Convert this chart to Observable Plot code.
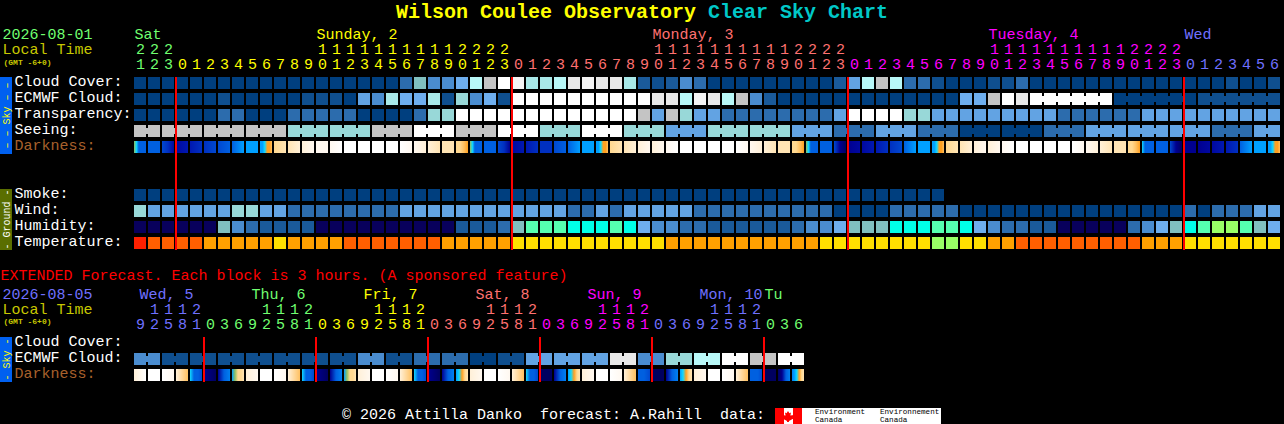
<!DOCTYPE html>
<html>
<head>
<meta charset="utf-8">
<script src="https://cdn.jsdelivr.net/npm/d3@7"></script>
<script src="https://cdn.jsdelivr.net/npm/@observablehq/plot@0.6"></script>
<style>
html,body{margin:0;padding:0;background:#000;width:1284px;height:424px;overflow:hidden}
#title{height:27px;line-height:25px;text-align:center;font:bold 20px/25px "Liberation Mono",monospace;color:#ff0;white-space:pre}
#title span{color:#00c8c8}
svg{display:block}
#foot{position:absolute;left:342px;top:407px;font:15px/18px "Liberation Mono",monospace;color:#fff;white-space:pre}
#logo{position:absolute;left:775px;top:408px;width:166px;height:16px;background:#fff;overflow:hidden;color:#000;font:7.6px/8px "Liberation Mono",monospace}
#logo i{position:absolute;top:0;height:16px;background:#f00;width:9px}
#logo b{position:absolute;left:7px;top:3px;width:12px;height:11px;background:#f00;clip-path:polygon(50% 0,62% 20%,75% 14%,70% 42%,100% 36%,90% 58%,100% 66%,58% 90%,58% 100%,42% 100%,42% 90%,0 66%,10% 58%,0 36%,30% 42%,25% 14%,38% 20%)}
#logo span{position:absolute;top:0;font-weight:normal;white-space:pre}
</style>
</head>
<body>
<div id="title">Wilson Coulee Observatory <span>Clear Sky Chart</span></div>
<div id="top"></div>
<div id="bottom" style="margin-top:20px"></div>
<div id="foot">© 2026 Attilla Danko  forecast: A.Rahill  data:</div>
<div id="logo"><i style="left:0"></i><i style="left:18px"></i><b></b><span style="left:40px">Environment
Canada</span><span style="left:105px">Environnement
Canada</span></div>
<script>
const L = s => [...s.replace(/\s/g, "")];

const levelColors = {
  a:"#003f7f", b:"#0f4f8f", B:"#1a5a9a", c:"#2c6cad", d:"#4a8ccf", e:"#62a3e3", E:"#6eaeee",
  t:"#80bfbf", f:"#98d8d8", F:"#a8e8e8", g:"#b8f8f8", h:"#c4c4c4", i:"#e8e8e8", I:"#f4f4f4", j:"#ffffff",
  n:"#08005c", m:"#55ffb0", y:"#00ffe8", l:"#99ff66",
  r:"#ff2000", o:"#ff5f00", p:"#ffa000", z:"#ffdf00"
};
const duskColors = {
  n:"#000060", v:"#000090", w:"#0008a0", x:"#0018b0", y:"#0030c0", q:"#0048d0", u:"#0060e0",
  s:"#0080f0", t:"#00a0ff", c:"#10d8ff", g:"#90c060", a:"#ffa020", A:"#ffc060", B:"#ffd890",
  C:"#ffe4b4", D:"#fff0d8", E:"#fff8f0", W:"#ffffff"
};

// 82 hourly blocks, one level letter per block
const cloudCover   = L("aaaaaaaaaaaaaaaaaaa ctddE ghjI FFgiIii FBbBdc aaaaaaaaa Beghg ccb aaa bbc aaaaaaaaaaaaaa baab");
const ecmwfCloud   = L("aaaaaa b aaaaa bbb a edF EE F b f d E b jjjjjjjjjj ii g I i g h d B aaaaaaaaaaaaa EE h j i jjjjjj aaaaaa bbbbbb");
const transparency = L("aaaaaa cc aaa ccccc aaaa c ff jjjjjjjjjjjjj h e h f ee cccccccc e jjjj ff eeeeeeeee cccccc eeeeeeeeee");
const seeing       = L("hh hhh hhh hhh fff fff hhh jjj hhh jjj fff jjj fff eee fff fff eee ccc eee ccc aaa aaa ccc eee eee eee ccc ee");
const smoke        = L("aaaaaaaaaaaaaaaaaaaaaaaaaaaaaaaaaaaaaaaaaaaaaaaaaaaaaaaaaa");
const wind         = L("f eeeeee ff ee cccccccc eeeeeeeeeeee cc e c eeeee cccccccccc aaaa ccccc aaaaaaaaaaaaaaaa c a ccc ee");
const humidity     = L("nnnnnn t d c BBBB nnnnnnnnnn BBB c t mmm yyy m y E dd cc BBBBBB c dd E ttt yyy mm y E d cc BB nnnnn c d E t y m ll m t E");
const temperature  = L("r oooo ppppp z pppp ooooooo ppppp zzzzzzzzzzz ppppppppppp zzzzzzzz ll zz pp ooooooooo ppp zzzzzzz");
const darkness = ["gcuuuu","uu","qyw","wx","xy","yq","qu","ust","tt","ttcaaA","BC","CD","DE","EE","EW","WW","WW","WW","WW","WE","ED","DC","CC","BBAa",
  "gcuuuu","uu","qyv","wx","xy","yy","qu","ust","tt","ttcaaA","BC","CD","DE","DE","EW","WW","WW","WW","WW","WE","ED","DC","CC","BBAa",
  "gcuuuu","uu","qvn","vw","wx","xy","yq","ust","tt","ttcaaA","BC","CD","DE","DE","EW","WW","WW","WW","WW","WE","ED","DC","CC","BBAa",
  "cuuuu","uu","qvn","vv","vw","wx","xy","ust","tt","ttcaaA"];

const hourDigits = L("123 0123456789 0123456789 0123 0123456789 0123456789 0123 0123456789 0123456789 0123 0123456");
const hourTens   = L("222 .......... 1111111111 2222 .......... 1111111111 2222 .......... 1111111111 2222 .......");
const dayStarts  = [0, 3, 27, 51, 75];
const dayColors  = ["#70ff70", "#ffff00", "#ff7070", "#ff00ff", "#7070ff"];
const dayLabels  = ["Sat", "Sunday, 2", "Monday, 3", "Tuesday, 4", "Wed"];
const dayLabelCols = [0, 13, 37, 61, 75];
const midnights  = [3, 27, 51, 75];

// Extended forecast: 24 three-hour values, 48 half blocks
const extEcmwf = L("d bbbbbbb d b c c a b eee i d f g j h j");
const extDarkness = ["DW","WW","WE","DA","cuuq","vn","vus","tgBBC","DE","WW","WE","DA","cuuq","vn","vus","tgBBC",
  "DE","WW","WE","DA","cuuq","vn","vus","tcaBC","DE","WW","WE","DA","cuuq","nn","vus","tcaBC",
  "DE","WW","WE","DA","uuq","nn","vus","tcaBC","DE","WW","WE","DA","uuuq","nn","nvus","stcaBC"];
const extDigits = L("92581036 92581036 92581036 92581036 92581036 92581036");
const extTens   = L(".1112... .1112... .1112... .1112... .1112... .1112...");
const extStarts = [0, 5, 13, 21, 29, 37, 45];
const extColors = ["#7070ff", "#70ff70", "#ffff00", "#ff7070", "#ff00ff", "#7070ff", "#70ff70"];
const extLabels = ["Wed, 5", "Thu, 6", "Fri, 7", "Sat, 8", "Sun, 9", "Mon, 10"];
const extLabelCols = [0, 8, 16, 24, 32, 40];
const extLast = {col: 45, text: "Tu"};
const extMidnights = [5, 13, 21, 29, 37, 45];

const topRows = ["day","tens","hours","Cloud Cover:","ECMWF Cloud:","Transparency:","Seeing:","Darkness:","gap1","gap2","Smoke:","Wind:","Humidity:","Temperature:"];
const botRows = ["extended","day","tens","hours","Cloud Cover:","ECMWF Cloud:","Darkness:"];

const FONT = "Liberation Mono";
const CELL = 12 / 14;
const colorAt = (starts, colors, i) => colors[d3.bisectRight(starts, i) - 1];

const blocks = (row, levels) => levels.map((level, i) => ({row, i, level}));
const cellMark = data => Plot.barX(data, {x1: d => d.i, x2: d => d.i + CELL, y: "row", fill: d => levelColors[d.level], shapeRendering: "crispEdges"});
const linkMark = data => Plot.barX(data, {x1: d => d.i + CELL, x2: d => d.i + 1, y: "row", fill: d => levelColors[d.level], insetTop: 3, insetBottom: 3, shapeRendering: "crispEdges"});
const gradientDefs = (prefix, list) => () => {
  const defs = d3.create("svg:defs");
  list.forEach((stops, i) => {
    const g = defs.append("linearGradient").attr("id", prefix + i);
    const s = [...stops];
    s.forEach((k, j) => g.append("stop").attr("offset", j / (s.length - 1)).attr("stop-color", duskColors[k]));
  });
  return defs.node();
};
const darkMark = (prefix, list) => Plot.barX(list.map((s, i) => ({i})), {
  x1: d => d.i, x2: d => d.i + CELL, y: () => "Darkness:", fill: d => `url(#${prefix}${d.i})`, shapeRendering: "crispEdges"
});
const digitMark = (digits, row, starts, colors, dy) => Plot.text(
  digits.map((t, i) => ({t, i})).filter(d => d.t !== "."),
  {x: "i", y: () => row, text: "t", dx: 6, dy, fontFamily: FONT, fontSize: 15, fill: d => colorAt(starts, colors, d.i)}
);
const leftText = (text, row, fill, dx, dy, size = 15, weight = "normal") => Plot.text([text], {
  y: () => row, text: d => d, frameAnchor: "left", textAnchor: "start", dx, dy, fill, fontFamily: FONT, fontSize: size, fontWeight: weight
});
const sideBar = (first, last, fill) => Plot.ruleX([-128 / 14], {x: d => d, y1: () => first, y2: () => last, insetBottom: -1, dx: -0.5, stroke: fill, strokeWidth: 12, shapeRendering: "crispEdges"});
const sideText = (text, row, fill, dy) => Plot.text([text], {x: () => -128 / 14, y: () => row, text: d => d, rotate: -90, dy, fill, fontFamily: FONT, fontSize: 10});
const rowLabels = (labels) => labels.map(l => leftText(l, l, l === "Darkness:" ? "#a8602c" : "#fff", 14, -2));
const redLines = (cols, first, last) => Plot.ruleX(cols, {x: d => d, y1: () => first, y2: () => last, insetBottom: -1, dx: -0.5, stroke: "#f00", strokeWidth: 2, shapeRendering: "crispEdges"});

const base = (rows, height) => ({
  width: 1284, height, margin: 0,
  x: {type: "linear", domain: [0, 82], range: [134, 1282], axis: null},
  y: {type: "band", domain: rows, range: [0, height], paddingInner: 0.25, paddingOuter: 0.125, align: 0.5, round: false, axis: null},
  style: {background: "#000", overflow: "visible"}
});

const seeingLinks = blocks("Seeing:", seeing).filter(d => d.i < 81 && d.i % 3 !== 1);
const ecmwfRuns = [[64, 69], [70, 75], [76, 81]];
const ecmwfLinks = blocks("ECMWF Cloud:", ecmwfCloud).filter(d => ecmwfRuns.some(([a, b]) => d.i >= a && d.i < b));

document.getElementById("top").append(Plot.plot({
  ...base(topRows, 224),
  marks: [
    gradientDefs("g", darkness),
    leftText("2026-08-01", "day", "#70ff70", 2, -1),
    leftText("Local Time", "tens", "#c8c800", 2, -2),
    leftText("(GMT -6+0)", "hours", "#c8c800", 3, -5, 8, "bold"),
    Plot.text(dayLabels.map((t, k) => ({t, i: dayLabelCols[k], c: dayColors[k]})), {x: "i", y: () => "day", text: "t", textAnchor: "start", dy: -1, fill: "c", fontFamily: FONT, fontSize: 15}),
    digitMark(hourTens, "tens", dayStarts, dayColors, -2),
    digitMark(hourDigits, "hours", dayStarts, dayColors, -3),
    ...rowLabels(["Cloud Cover:","ECMWF Cloud:","Transparency:","Seeing:","Darkness:","Smoke:","Wind:","Humidity:","Temperature:"]),
    sideBar("Cloud Cover:", "Darkness:", "#0060f0"),
    sideBar("Smoke:", "Temperature:", "#5a6e00"),
    sideText("– – Sky – –", "Transparency:", "#ffff00", 0),
    sideText("- Ground -", "Humidity:", "#ffffff", -8),
    cellMark(blocks("Cloud Cover:", cloudCover)),
    cellMark(blocks("ECMWF Cloud:", ecmwfCloud)),
    linkMark(ecmwfLinks),
    cellMark(blocks("Transparency:", transparency)),
    cellMark(blocks("Seeing:", seeing)),
    linkMark(seeingLinks),
    darkMark("g", darkness),
    cellMark(blocks("Smoke:", smoke)),
    cellMark(blocks("Wind:", wind)),
    cellMark(blocks("Humidity:", humidity)),
    cellMark(blocks("Temperature:", temperature)),
    redLines(midnights, "Cloud Cover:", "Temperature:")
  ]
}));

const extCells = extEcmwf.flatMap((level, k) => [0, 1].map(j => ({row: "ECMWF Cloud:", i: 2 * k + j, level})));
document.getElementById("bottom").append(Plot.plot({
  ...base(botRows, 112),
  marks: [
    gradientDefs("h", extDarkness),
    leftText("EXTENDED Forecast. Each block is 3 hours. (A sponsored feature)", "extended", "#ff0000", 0, -4),
    leftText("2026-08-05", "day", "#7070ff", 2, -1),
    leftText("Local Time", "tens", "#c8c800", 2, -2),
    leftText("(GMT -6+0)", "hours", "#c8c800", 3, -6, 8, "bold"),
    Plot.text(extLabels.map((t, k) => ({t, i: extLabelCols[k], c: extColors[k]})), {x: "i", y: () => "day", text: "t", textAnchor: "start", dx: 5, dy: -1, fill: "c", fontFamily: FONT, fontSize: 15}),
    Plot.text([extLast], {x: "col", y: () => "day", text: "text", textAnchor: "start", dy: -1, fill: "#70ff70", fontFamily: FONT, fontSize: 15}),
    digitMark(extTens, "tens", extStarts, extColors, -2),
    digitMark(extDigits, "hours", extStarts, extColors, -3),
    ...rowLabels(["Cloud Cover:","ECMWF Cloud:","Darkness:"]),
    sideBar("Cloud Cover:", "Darkness:", "#0060f0"),
    sideText("- Sky -", "ECMWF Cloud:", "#ffff00", 0),
    cellMark(extCells),
    linkMark(extCells.filter(d => d.i % 2 === 0)),
    darkMark("h", extDarkness),
    redLines(extMidnights, "Cloud Cover:", "Darkness:")
  ]
}));
</script>
</body>
</html>
